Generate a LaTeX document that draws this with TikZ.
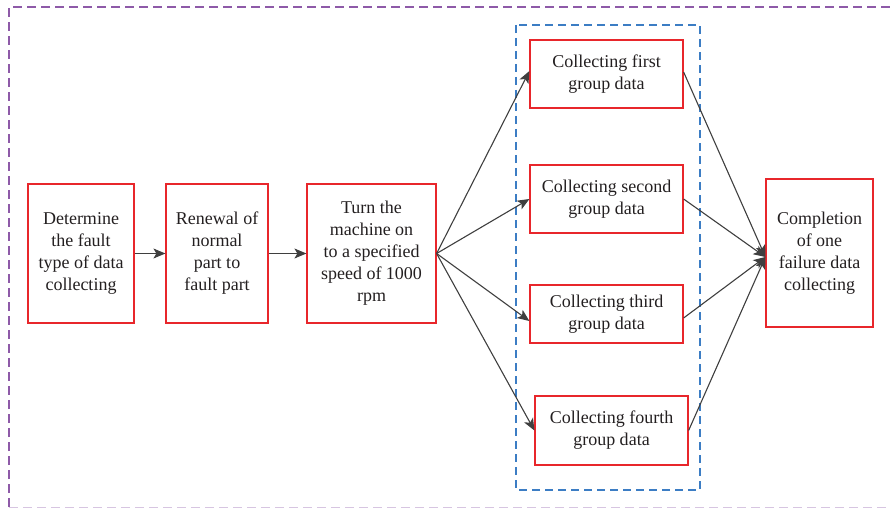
\documentclass[tikz,border=0pt]{standalone}
\usepackage{fontspec}
\setmainfont{Liberation Serif}
\usetikzlibrary{arrows.meta}
\definecolor{boxred}{HTML}{E8262B}
\definecolor{txt}{HTML}{231F20}
\definecolor{arr}{HTML}{3F3F3F}
\definecolor{purp}{HTML}{8E5AA8}
\definecolor{blu}{HTML}{3C7DC4}
\begin{document}
\begin{tikzpicture}[x=1bp,y=-1bp,
  stepbox/.style={draw=boxred,line width=1.2bp,text=txt,align=center,inner sep=0pt,
    font=\fontsize{18bp}{22bp}\selectfont},
  conn/.style={draw=arr,line width=1.1bp,-{Stealth[length=12bp,width=10bp,inset=3bp]}}]
\useasboundingbox (0,0) rectangle (890,508);
\draw[purp,line width=1.4bp,dash pattern=on 9bp off 5bp] (9,507) -- (9,7) -- (895,7);
\draw[purp!35,line width=0.8bp,dash pattern=on 9bp off 5bp] (9,507.5) -- (895,507.5);
\draw[blu,line width=1.2bp,dash pattern=on 8bp off 5bp] (516,25) rectangle (700,490);
\node[stepbox,minimum width=106bp,minimum height=139bp] (b1) at (81,253.5) {Determine\\the fault\\type of data\\collecting};
\node[stepbox,minimum width=102bp,minimum height=139bp] (b2) at (217,253.5) {Renewal of\\normal\\part to\\fault part};
\node[stepbox,minimum width=129bp,minimum height=139bp] (b3) at (371.5,253.5) {Turn the\\machine on\\to a specified\\speed of 1000\\rpm};
\node[stepbox,minimum width=153bp,minimum height=68bp] (g1) at (606.5,74) {Collecting first\\group data};
\node[stepbox,minimum width=153bp,minimum height=68bp] (g2) at (606.5,199) {Collecting second\\group data};
\node[stepbox,minimum width=153bp,minimum height=58bp] (g3) at (606.5,314) {Collecting third\\group data};
\node[stepbox,minimum width=153bp,minimum height=69bp] (g4) at (611.5,430.5) {Collecting fourth\\group data};
\node[stepbox,minimum width=107bp,minimum height=148bp] (c) at (819.5,253) {Completion\\of one\\failure data\\collecting};
\coordinate (fan) at (b3.east);
\coordinate (cin) at ([yshift=-4bp]c.west);
\draw[conn] (b1) -- (b2);
\draw[conn] (b2) -- (b3);
\draw[conn] (fan) -- ([yshift=3bp]g1.west);
\draw[conn] (fan) -- (g2.west);
\draw[conn] (fan) -- ([yshift=-7bp]g3.west);
\draw[conn] (fan) -- (g4.west);
\draw[conn] ([yshift=2bp]g1.east) -- (cin);
\draw[conn] (g2.east) -- (cin);
\draw[conn] ([yshift=-4bp]g3.east) -- (cin);
\draw[conn] (g4.east) -- (cin);
\end{tikzpicture}
\end{document}
